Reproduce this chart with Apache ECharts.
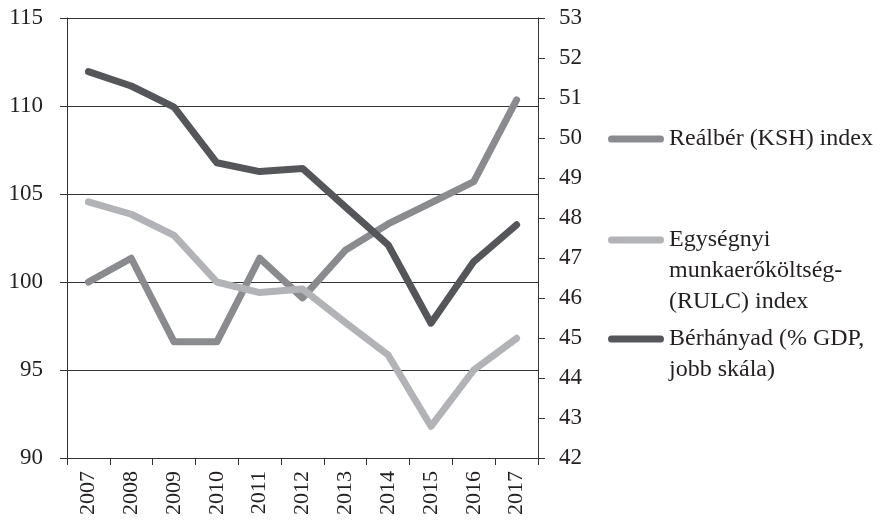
<!DOCTYPE html>
<html>
<head>
<meta charset="utf-8">
<script src="https://cdn.jsdelivr.net/npm/echarts@6/dist/echarts.min.js"></script>
<style>
  html, body { margin: 0; padding: 0; background: #fff; }
  #chart { width: 883px; height: 522px; }
</style>
</head>
<body>
<div id="chart"></div>
<script>
var years = ["2007", "2008", "2009", "2010", "2011", "2012", "2013", "2014", "2015", "2016", "2017"];
var realber = [100.0, 101.35, 96.6, 96.6, 101.35, 99.1, 101.8, 103.3, 104.5, 105.7, 110.35];
var rulc = [104.55, 103.85, 102.65, 100.0, 99.4, 99.6, 97.7, 95.85, 91.8, 95.0, 96.8];
var berhanyad = [51.66, 51.3, 50.77, 49.38, 49.16, 49.24, 48.28, 47.33, 45.37, 46.91, 47.83];

var seriesNames = ["Reálbér (KSH) index", "Egységnyi munkaerőköltség-(RULC) index", "Bérhányad (% GDP, jobb skála)"];
var legendLabels = ["Reálbér (KSH) index", "Egységnyi\nmunkaerőköltség-\n(RULC) index", "Bérhányad (% GDP,\njobb skála)"];
var colors = ["#8a8b8e", "#b2b3b6", "#545659"];

var font = "'Liberation Serif', 'Times New Roman', serif";
var lineH = 31;
var legendCenters = [139, 240, 339];

var chart = echarts.init(document.getElementById("chart"));

// one legend per item; icon is as tall as the text block, bar drawn at the first line
var legends = seriesNames.map(function (name, i) {
    var n = legendLabels[i].split("\n").length;
    var h = n * lineH;
    var y0 = lineH / 2 - 3.5, y1 = lineH / 2 + 3.5;
    var icon = "path://M0,0 L0.01,0 Z M0," + h + " L0.01," + h + " Z " +
        "M3.5," + y0 + " H52.5 A3.5,3.5 0 0 1 52.5," + y1 + " H3.5 A3.5,3.5 0 0 1 3.5," + y0 + " Z";
    return {
        data: [name],
        left: 608,
        top: legendCenters[i] - lineH / 2,
        padding: 0,
        itemWidth: 56,
        itemHeight: h,
        itemGap: 0,
        icon: icon,
        selectedMode: false,
        formatter: function () { return legendLabels[i]; },
        textStyle: {
            fontFamily: font,
            fontSize: 24,
            color: "#231f20",
            lineHeight: lineH
        }
    };
});

var option = {
    animation: false,
    backgroundColor: "#fff",
    legend: legends,
    grid: { left: 67, right: 345, top: 18, bottom: 64 },
    xAxis: {
        type: "category",
        data: years,
        boundaryGap: true,
        axisLine: { show: true, lineStyle: { color: "#333", width: 1 } },
        axisTick: { show: true, length: 7, inside: false, alignWithLabel: false, lineStyle: { color: "#333" } },
        axisLabel: {
            rotate: 90,
            margin: 13,
            interval: 0,
            fontFamily: font,
            fontSize: 22,
            color: "#231f20"
        }
    },
    yAxis: [{
        type: "value",
        min: 90,
        max: 115,
        interval: 5,
        position: "left",
        axisLine: { show: true, lineStyle: { color: "#333", width: 1 } },
        axisTick: { show: true, length: 7, lineStyle: { color: "#333" } },
        splitLine: { show: true, lineStyle: { color: "#333", width: 1 } },
        axisLabel: { margin: 24, fontFamily: font, fontSize: 23, color: "#231f20" }
    }, {
        type: "value",
        min: 42,
        max: 53,
        interval: 1,
        position: "right",
        axisLine: { show: true, lineStyle: { color: "#333", width: 1 } },
        axisTick: { show: true, length: 7, lineStyle: { color: "#333" } },
        splitLine: { show: false },
        axisLabel: { margin: 21, fontFamily: font, fontSize: 23, color: "#231f20" }
    }],
    series: [
        { name: seriesNames[0], type: "line", data: realber, yAxisIndex: 0 },
        { name: seriesNames[1], type: "line", data: rulc, yAxisIndex: 0 },
        { name: seriesNames[2], type: "line", data: berhanyad, yAxisIndex: 1 }
    ].map(function (s, i) {
        s.symbol = "none";
        s.color = colors[i];
        s.lineStyle = { width: 7, color: colors[i], cap: "round", join: "round" };
        return s;
    })
};

chart.setOption(option);
</script>
</body>
</html>
